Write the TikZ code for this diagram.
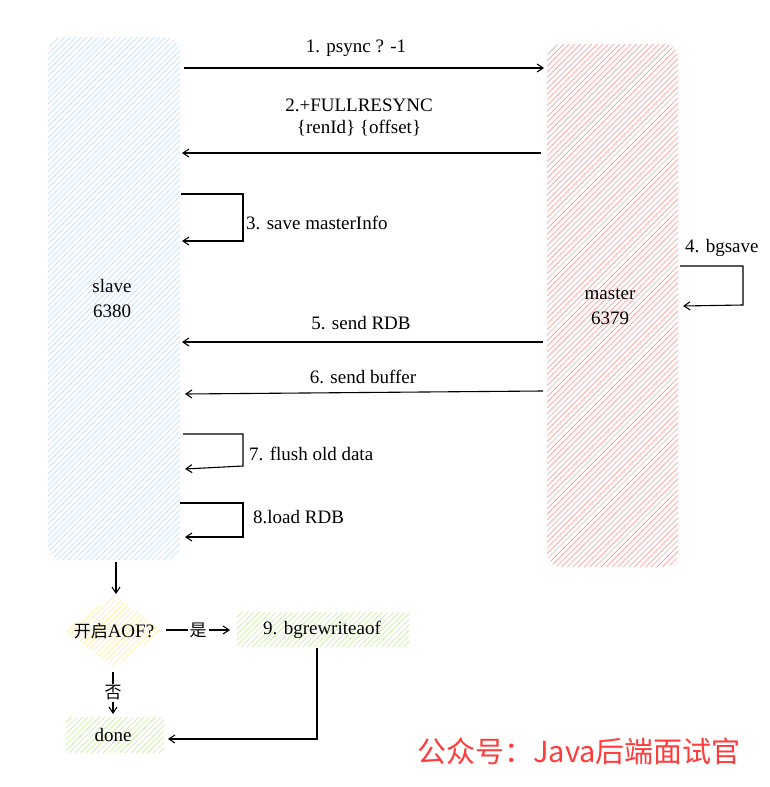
\documentclass[tikz,border=0pt]{standalone}
\usepackage{fontspec}
\setmainfont{Liberation Serif}
\newfontfamily\cjk{Noto Sans CJK SC}
\usetikzlibrary{arrows.meta}
\definecolor{slavehatch}{HTML}{BFE0FF}
\definecolor{masterhatch}{HTML}{FF9C9C}
\definecolor{yelhatch}{HTML}{FFEC99}
\definecolor{grnhatch}{HTML}{CDEBA0}
\definecolor{wm}{HTML}{FF3B3B}
\tikzset{
  lbl/.style={font=\fontsize{19}{22}\selectfont, inner sep=1pt},
  conn/.style={draw=black, line width=1.1pt, -{Straight Barb[length=6pt,width=8pt,line width=1.1pt]}},
  hatchline/.style={line width=0.65pt},
}
% hatch: #1 colour, #2 xmin, #3 xmax, #4 ymax(bottom), #5 height
\newcommand{\myhatch}[5]{%
  \pgfmathsetmacro{\hstart}{#2-#5}%
  \pgfmathsetmacro{\hsecond}{\hstart+5.6}%
  \foreach \t in {\hstart,\hsecond,...,#3} {\draw[hatchline,#1] (\t,#4) -- ++(#5,-#5);}%
}
\begin{document}
\begin{tikzpicture}[x=1pt,y=-1pt]
\useasboundingbox (0,0) rectangle (769,787);
% slave box
\begin{scope}
\clip[rounded corners=15pt] (48,37) rectangle (180,560);
\myhatch{slavehatch}{48}{180}{560}{523}
\end{scope}
% master box
\begin{scope}
\clip[rounded corners=15pt] (547,44) rectangle (678,567);
\myhatch{masterhatch}{547}{678}{567}{523}
\end{scope}
\node[lbl, align=center] (slave) at (112,298) {slave\\[3pt]6380};
\node[lbl, align=center] (master) at (610,307) {master\\[3pt]6379};
% arrows slave/master
\coordinate (a1s) at (184,68); \coordinate (a1e) at (544,68);
\draw[conn] (a1s) -- (a1e);
\node[lbl] (l1) at (356,48) {1. psync ? -1};
\coordinate (a2s) at (541,153); \coordinate (a2e) at (182,153);
\draw[conn] (a2s) -- (a2e);
\node[lbl, align=center] (l2) at (359,117) {2.+FULLRESYNC\\\{renId\} \{offset\}};
% loop 3
\coordinate (a3s) at (181,194); \coordinate (a3a) at (243,194); \coordinate (a3b) at (243,241); \coordinate (a3e) at (182,241);
\draw[conn] (a3s) -- (a3a) -- (a3b) -- (a3e);
\node[lbl, anchor=west] (l3) at (245,223) {3. save masterInfo};
% loop 4
\coordinate (a4s) at (680,266); \coordinate (a4a) at (743,266); \coordinate (a4b) at (743,305); \coordinate (a4e) at (683,306);
\draw[conn] (a4s) -- (a4a) -- (a4b) -- (a4e);
\node[lbl, anchor=west] (l4) at (684,248) {4. bgsave};
% 5, 6
\coordinate (a5s) at (543,342); \coordinate (a5e) at (182,342);
\draw[conn] (a5s) -- (a5e);
\node[lbl] (l5) at (361,323) {5. send RDB};
\coordinate (a6s) at (543,391); \coordinate (a6e) at (185,394);
\draw[conn] (a6s) -- (a6e);
\node[lbl] (l6) at (363,377) {6. send buffer};
% loop 7
\coordinate (a7s) at (183,434); \coordinate (a7a) at (243,434); \coordinate (a7b) at (243,466); \coordinate (a7e) at (185,469);
\draw[conn] (a7s) -- (a7a) -- (a7b) -- (a7e);
\node[lbl, anchor=west] (l7) at (248,454) {7. flush old data};
% loop 8
\coordinate (a8s) at (180,503); \coordinate (a8a) at (243,503); \coordinate (a8b) at (243,537); \coordinate (a8e) at (185,537);
\draw[conn] (a8s) -- (a8a) -- (a8b) -- (a8e);
\node[lbl, anchor=west] (l8) at (252,517) {8.load RDB};
% decision
\begin{scope}
\clip (114,595) -- (163,631) -- (114,667) -- (65,631) -- cycle;
\myhatch{yelhatch}{65}{163}{667}{72}
\end{scope}
\node[lbl] (dec) at (114,631) {{\cjk\fontsize{17}{20}\selectfont 开启}AOF?};
\coordinate (d0) at (116,562); \coordinate (d1) at (116,594);
\draw[conn] (d0) -- (d1);
% bgrewriteaof
\begin{scope}
\clip (237,612) rectangle (409,647);
\myhatch{grnhatch}{237}{409}{647}{35}
\end{scope}
\node[lbl] (bgr) at (322,630) {9. bgrewriteaof};
% done
\begin{scope}
\clip (66,717) rectangle (164,753);
\myhatch{grnhatch}{66}{164}{753}{36}
\end{scope}
\node[lbl] (done) at (113,735) {done};
% yes / no
\coordinate (y0) at (166,630); \coordinate (y1) at (230,630);
\draw[conn] (y0) -- (y1) node[midway, fill=white, inner sep=2pt, font=\cjk\fontsize{17}{19}\selectfont] (yes) {是};
\coordinate (n0) at (113,672); \coordinate (n1) at (113,714);
\draw[conn] (n0) -- (n1) node[midway, fill=white, inner sep=2pt, font=\cjk\fontsize{17}{19}\selectfont] (no) {否};
% final
\coordinate (f0) at (317,648); \coordinate (f1) at (317,739); \coordinate (f2) at (168,739);
\draw[conn] (f0) -- (f1) -- (f2);
% watermark
\node[text=wm, font=\cjk\fontsize{29}{32}\selectfont] (wmk) at (579,751) {公众号：Java后端面试官};
\end{tikzpicture}
\end{document}
